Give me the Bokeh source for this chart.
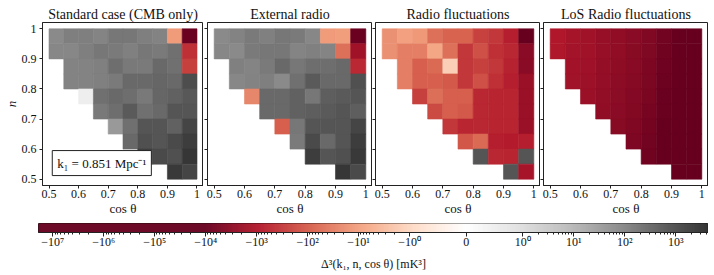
import math
from bokeh.plotting import figure
from bokeh.layouts import row, column
from bokeh.models import Range1d, FixedTicker, Label
from bokeh.embed import file_html
from bokeh.resources import INLINE

# ---------------- data ----------------
cos_theta = [0.525, 0.575, 0.625, 0.675, 0.725, 0.775, 0.825, 0.875, 0.925, 0.975]
n_values = [0.975, 0.925, 0.875, 0.825, 0.775, 0.725, 0.675, 0.625, 0.575, 0.525]
X = None

titles = ["Standard case (CMB only)", "External radio", "Radio fluctuations", "LoS Radio fluctuations"]

standard = [
    [80, 125, 125, 100, 170, 170, 125, 105, -12, -9000],
    [90, 90, 125, 170, 150, 120, 170, 150, 230, -440],
    [X, 105, 105, 120, 250, 160, 150, 300, 230, -260],
    [X, 105, 105, 120, 150, 300, 300, 350, 300, 950],
    [X, X, 0.5, 230, 300, 250, 160, 350, 420, 600],
    [X, X, X, 160, 250, 550, 230, 300, 700, 700],
    [X, X, X, X, 40, 230, 700, 700, 420, 1400],
    [X, X, X, X, X, 300, 850, 700, 1100, 2000],
    [X, X, X, X, X, X, 1700, 1100, 850, 2700],
    [X, X, X, X, X, X, X, X, 2400, 1400],
]

external = [
    [80, 105, 150, 120, 170, 150, 90, -12, -11, -9000],
    [90, 80, 150, 170, 170, 100, 120, 100, -52, -1650],
    [X, 120, 100, 150, 300, 170, 250, 250, 300, -560],
    [X, 90, 105, 125, 80, 230, 550, 300, 300, 850],
    [X, X, -25, 300, 300, 420, 170, 480, 550, 700],
    [X, X, X, 300, 300, 420, 480, 550, 700, 480],
    [X, X, X, X, -90, 170, 700, 700, 700, 1400],
    [X, X, X, X, X, 150, 1100, 300, 700, 2000],
    [X, X, X, X, X, X, 2000, 700, 850, 2400],
    [X, X, X, X, X, X, X, X, 2700, 1100],
]

radio = [
    [-17, -10, -13, -52, -78, -78, -240, -330, -780, -12000],
    [-17, -31, -31, -8, -52, -340, -150, -440, -590, -3300],
    [X, -31, -90, -65, -1.4, -340, -250, -330, -680, -3300],
    [X, -31, -90, -90, -110, -340, -150, -440, -780, -2050],
    [X, X, -250, -55, -90, -90, -590, -630, -630, -2050],
    [X, X, X, -180, -90, -110, -590, -630, -630, -2050],
    [X, X, X, X, -340, -600, -590, -630, -630, -2050],
    [X, X, X, X, X, -120, -65, -780, -900, -780],
    [X, X, X, X, X, X, 700, -590, -630, 700],
    [X, X, X, X, X, X, X, X, 700, -1350],
]

los = [
    [-1000, -1400, -1650, -2200, -2700, -3400, -4500, -7000, -10000, -20000],
    [-1050, -1500, -1750, -2300, -2800, -3500, -4700, -7500, -11000, -20000],
    [X, -1550, -1800, -2400, -2900, -3600, -5000, -8000, -12000, -22000],
    [X, -1600, -1900, -2500, -3000, -3800, -5200, -8500, -12000, -22000],
    [X, X, -2000, -2600, -3200, -4000, -5500, -9000, -13000, -24000],
    [X, X, X, -2700, -3300, -4200, -6000, -9500, -14000, -25000],
    [X, X, X, X, -3500, -4500, -6500, -10000, -15000, -26000],
    [X, X, X, X, X, -4800, -7000, -11000, -16000, -28000],
    [X, X, X, X, X, X, -7500, -12000, -18000, -30000],
    [X, X, X, X, X, X, X, X, -20000, -32000],
]

panels = [standard, external, radio, los]

axis_ticks = [0.5, 0.6, 0.7, 0.8, 0.9, 1.0]
axis_tick_labels = ["0.5", "0.6", "0.7", "0.8", "0.9", "1"]
cbar_min = -1.9e7
cbar_max = 4.4e3
color_limit = 1.0e4
cbar_major_values = [-1e7, -1e6, -1e5, -1e4, -1e3, -1e2, -1e1, -1, 0, 1, 1e1, 1e2, 1e3]
cbar_major_labels = ["\u221210\u2077", "\u221210\u2076", "\u221210\u2075", "\u221210\u2074",
                     "\u221210\u00b3", "\u221210\u00b2", "\u221210\u00b9", "\u221210\u2070",
                     "0", "10\u2070", "10\u00b9", "10\u00b2", "10\u00b3"]

# ---------------- colour mapping (symlog, RdGy) ----------------
RDGY = ["#67001f", "#b2182b", "#d6604d", "#f4a582", "#fddbc7", "#ffffff",
        "#e0e0e0", "#bababa", "#878787", "#4d4d4d", "#1a1a1a"]
LINSCALE = 1.0 / (1.0 - 1.0 / 10.0)


def symlog(v):
    a = abs(v)
    if a <= 1.0:
        return v * LINSCALE
    s = 1.0 if v > 0 else -1.0
    return s * (LINSCALE + math.log10(a))


TLIM = symlog(color_limit)


def hex2rgb(h):
    return [int(h[i:i + 2], 16) for i in (1, 3, 5)]


RGB = [hex2rgb(h) for h in RDGY]


def cmap(c):
    c = min(max(c, 0.0), 1.0)
    pos = c * (len(RGB) - 1)
    i = min(int(pos), len(RGB) - 2)
    f = pos - i
    r = [round(RGB[i][k] + (RGB[i + 1][k] - RGB[i][k]) * f) for k in range(3)]
    return "#%02x%02x%02x" % tuple(r)


def t_color(t):
    return cmap(0.5 + 0.5 * t / TLIM)


FONT = "Liberation Serif"
TXT = "#111111"
EDGE = "#222222"

lefts = [38, 4, 3, 3]
FRAME_W = 165
PANEL_H = 219
figs = []
for i, data in enumerate(panels):
    p = figure(width=lefts[i] + FRAME_W, height=PANEL_H,
               x_range=Range1d(0.478, 1.022), y_range=Range1d(0.479, 1.021),
               output_backend="svg", toolbar_location=None,
               min_border_left=lefts[i], min_border_right=0,
               min_border_top=22, min_border_bottom=34, title=titles[i])
    xs, ys, cs = [], [], []
    for r, vals in enumerate(data):
        for c, v in enumerate(vals):
            if v is None:
                continue
            xs.append(cos_theta[c])
            ys.append(n_values[r])
            cs.append(t_color(symlog(v)))
    p.rect(x=xs, y=ys, width=0.05, height=0.05, fill_color=cs, line_color=cs, line_width=0.6)
    p.grid.visible = False
    p.outline_line_color = EDGE
    p.outline_line_width = 1
    p.title.text_font = FONT
    p.title.text_font_size = "14px"
    p.title.text_font_style = "normal"
    p.title.text_color = TXT
    p.title.align = "center"
    p.title.standoff = 2
    for ax in (p.xaxis[0], p.yaxis[0]):
        ax.ticker = FixedTicker(ticks=axis_ticks)
        ax.major_label_overrides = dict(zip(axis_ticks, axis_tick_labels))
        ax.major_tick_out = 3
        ax.major_tick_in = 0
        ax.minor_tick_out = 0
        ax.minor_tick_in = 0
        ax.axis_line_color = EDGE
        ax.major_tick_line_color = EDGE
        ax.major_label_text_font = FONT
        ax.major_label_text_font_size = "12px"
        ax.major_label_text_color = TXT
        ax.axis_label_text_font = FONT
        ax.axis_label_text_color = TXT
    p.xaxis.major_label_standoff = 1
    p.xaxis.axis_label = "cos \u03b8"
    p.xaxis.axis_label_text_font_size = "13px"
    p.xaxis.axis_label_text_font_style = "normal"
    p.xaxis.axis_label_standoff = 0
    if i == 0:
        p.yaxis.axis_label = "n"
        p.yaxis.axis_label_text_font_size = "13px"
        p.yaxis.axis_label_text_font_style = "italic"
        p.yaxis.axis_label_standoff = 0
        p.yaxis.major_label_standoff = 3
        p.add_layout(Label(x=0.511, y=0.512, text="k\u2081 = 0.851 Mpc\u207b\u00b9",
                           text_font=FONT, text_font_size="13px", text_color=TXT,
                           background_fill_color="white", border_line_color=EDGE,
                           border_line_width=1, padding=5))
    else:
        p.yaxis.major_label_overrides = {t: "" for t in axis_ticks}
        p.yaxis.major_label_standoff = 0
    figs.append(p)

# ---------------- colour bar ----------------
tL = symlog(cbar_min)
tR = symlog(cbar_max)
cb = figure(width=38 + 670, height=54, x_range=Range1d(tL, tR), y_range=Range1d(0, 1),
            output_backend="svg", toolbar_location=None,
            min_border_left=38, min_border_right=0, min_border_top=4, min_border_bottom=37)
NS = 670
edges = [tL + (tR - tL) * k / NS for k in range(NS + 1)]
cols = [t_color(0.5 * (edges[k] + edges[k + 1])) for k in range(NS)]
cb.quad(left=edges[:-1], right=edges[1:], bottom=0, top=1, fill_color=cols, line_color=cols, line_width=0.6)
cb.grid.visible = False
cb.yaxis.visible = False
cb.outline_line_color = EDGE
cb.outline_line_width = 1

major_t = [round(symlog(v), 4) for v in cbar_major_values]
minor_t = []
for k in range(0, 7):
    for m in range(2, 10):
        minor_t.append(round(symlog(-m * 10.0 ** k), 4))
for k in range(0, 4):
    for m in range(2, 10):
        if m * 10.0 ** k <= cbar_max:
            minor_t.append(round(symlog(m * 10.0 ** k), 4))
ax = cb.xaxis[0]
ax.ticker = FixedTicker(ticks=major_t, minor_ticks=minor_t)
ax.major_label_overrides = {t: lab for t, lab in zip(major_t, cbar_major_labels)}
ax.major_tick_out = 4
ax.major_tick_in = 0
ax.minor_tick_out = 2
ax.minor_tick_in = 0
ax.axis_line_color = EDGE
ax.major_tick_line_color = EDGE
ax.minor_tick_line_color = EDGE
ax.major_label_standoff = -2
ax.major_label_text_font = FONT
ax.major_label_text_font_size = "12px"
ax.major_label_text_color = TXT
ax.axis_label = "\u0394\u00b3(k\u2081, n, cos \u03b8) [mK\u00b3]"
ax.axis_label_text_font = FONT
ax.axis_label_text_font_size = "12px"
ax.axis_label_text_font_style = "normal"
ax.axis_label_text_color = TXT
ax.axis_label_standoff = 5

layout = column(row(*figs, spacing=0), cb, spacing=0)
open("out.html", "w").write(file_html(layout, INLINE))
